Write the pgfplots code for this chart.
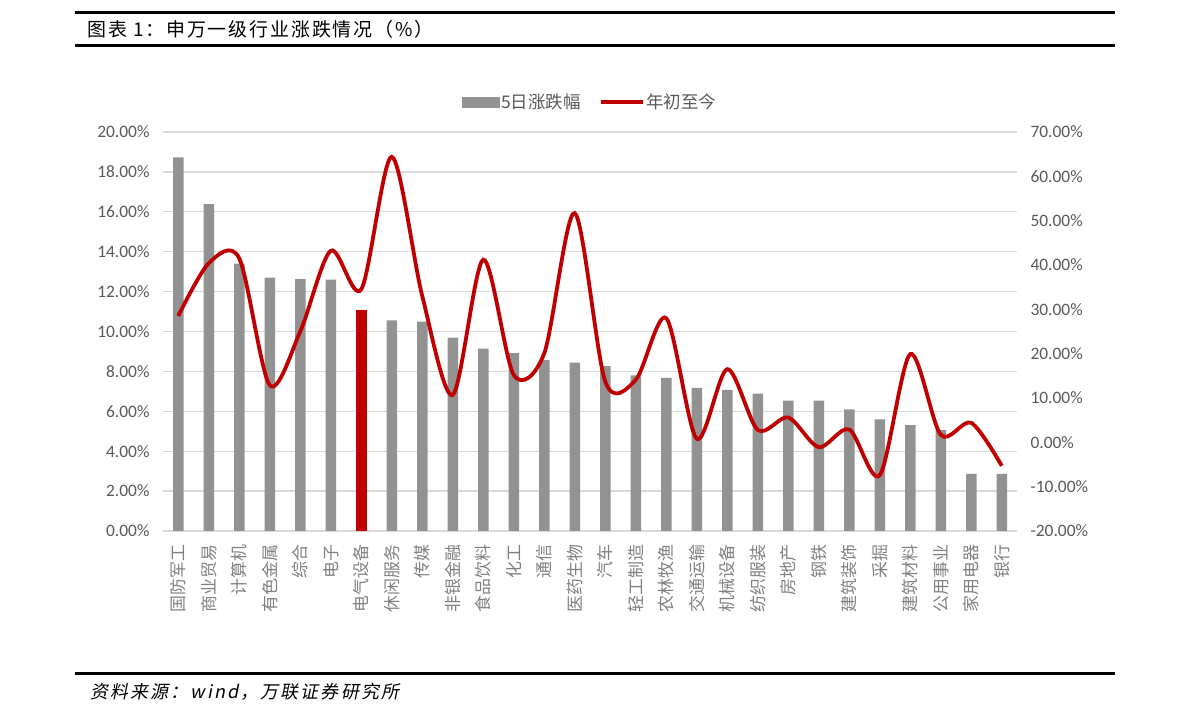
\documentclass[border=0pt]{standalone}
\usepackage{fontspec}
\usepackage{pgfplots}
\usepackage{pgfplotstable}
\pgfplotsset{compat=1.18}
\setmainfont{Carlito}
\newfontfamily\cjk{Noto Sans CJK SC}
\newfontfamily\cjktitle{Noto Sans CJK SC}[LetterSpace=10]
\newfontfamily\cjkslant{Noto Sans CJK SC}[FakeSlant=0.2, LetterSpace=12]
\definecolor{barg}{HTML}{929292}
\definecolor{lred}{HTML}{C00000}
\definecolor{txtg}{HTML}{595959}
\definecolor{catg}{HTML}{808080}
\definecolor{gridc}{HTML}{D9D9D9}

\pgfplotstableread{
x bar line
0 18.73 28.5
1 16.39 40.4
2 13.40 41.5
3 12.70 12.9
4 12.62 25.0
5 12.60 43.2
6 11.08 34.5
7 10.56 64.4
8 10.49 33.0
9 9.69 10.7
10 9.14 41.2
11 8.91 15.2
12 8.56 20.1
13 8.44 51.7
14 8.27 13.7
15 7.80 14.1
16 7.67 28.0
17 7.18 0.8
18 7.07 16.5
19 6.88 2.8
20 6.53 5.6
21 6.53 -1.1
22 6.10 2.9
23 5.60 -7.4
24 5.31 19.9
25 5.06 1.7
26 2.86 4.4
27 2.86 -5.3
}\data

\pgfplotstableread{
x bar
6 11.08
}\hilite

\begin{document}
\begin{tikzpicture}
\useasboundingbox (0,0) rectangle (1191bp,723bp);
% header rules and title
\draw[line width=3bp] (75bp,710bp) -- (1115bp,710bp);
\draw[line width=3bp] (75bp,677bp) -- (1115bp,677bp);
\node[anchor=west, inner sep=0pt, font=\cjktitle\fontsize{19}{21}\selectfont] at (87bp,693.5bp) {图表 1：申万一级行业涨跌情况（\%）};
% footer
\draw[line width=3bp] (75bp,49bp) -- (1115bp,49bp);
\node[anchor=west, inner sep=0pt, font=\cjkslant\fontsize{18}{20}\selectfont] at (90bp,31bp) {资料来源：wind，万联证券研究所};

\begin{axis}[
  at={(163bp,192bp)}, anchor=south west,
  scale only axis, width=854bp, height=399bp,
  xmin=-0.5, xmax=27.5, ymin=0, ymax=20,
  axis line style={draw=none},
  tick style={draw=none}, major tick length=0pt,
  ymajorgrids, grid style={gridc, line width=1.3bp},
  ytick={0,2,...,20},
  yticklabels={0.00\%,2.00\%,4.00\%,6.00\%,8.00\%,10.00\%,12.00\%,14.00\%,16.00\%,18.00\%,20.00\%},
  yticklabel style={font=\fontsize{17.5}{19}\selectfont, text=txtg, xshift=-10bp},
  xtick={0,...,27},
  xticklabels={国防军工,商业贸易,计算机,有色金属,综合,电子,电气设备,休闲服务,传媒,非银金融,食品饮料,化工,通信,医药生物,汽车,轻工制造,农林牧渔,交通运输,机械设备,纺织服装,房地产,钢铁,建筑装饰,采掘,建筑材料,公用事业,家用电器,银行},
  xticklabel style={rotate=90, anchor=east, font=\cjk\fontsize{17}{19}\selectfont, text=catg, xshift=-10bp},
  ybar, bar width=10.5bp,
]
\addplot[fill=barg, draw=none, bar shift=0pt] table[x=x, y=bar] {\data};
\addplot[fill=lred, draw=none, bar shift=0pt] table[x=x, y=bar] {\hilite};
\end{axis}

\begin{axis}[
  at={(163bp,192bp)}, anchor=south west,
  scale only axis, width=854bp, height=399bp,
  xmin=-0.5, xmax=27.5, ymin=-20, ymax=70,
  axis line style={draw=none},
  tick style={draw=none}, major tick length=0pt,
  xtick=\empty,
  yticklabel pos=right,
  ytick={-20,-10,...,70},
  yticklabels={-20.00\%,-10.00\%,0.00\%,10.00\%,20.00\%,30.00\%,40.00\%,50.00\%,60.00\%,70.00\%},
  yticklabel style={font=\fontsize{17.5}{19}\selectfont, text=txtg, xshift=10bp},
  legend columns=2,
  legend style={at={(0.5,1)}, anchor=center, yshift=30bp, draw=none, fill=none,
    font=\cjk\fontsize{17.5}{19}\selectfont, text=txtg,
    /tikz/every even column/.append style={column sep=16bp}},
]
\addlegendimage{legend image code/.code={\fill[barg] (0bp,-5bp) rectangle (37bp,5bp);}}
\addlegendentry{5日涨跌幅}
\addplot[lred, line width=3.8bp, smooth, no markers,
  legend image code/.code={\draw[lred, line width=3.8bp] (0bp,0bp) -- (42bp,0bp);}]
  table[x=x, y=line] {\data};
\addlegendentry{年初至今}
\end{axis}
\end{tikzpicture}
\end{document}
